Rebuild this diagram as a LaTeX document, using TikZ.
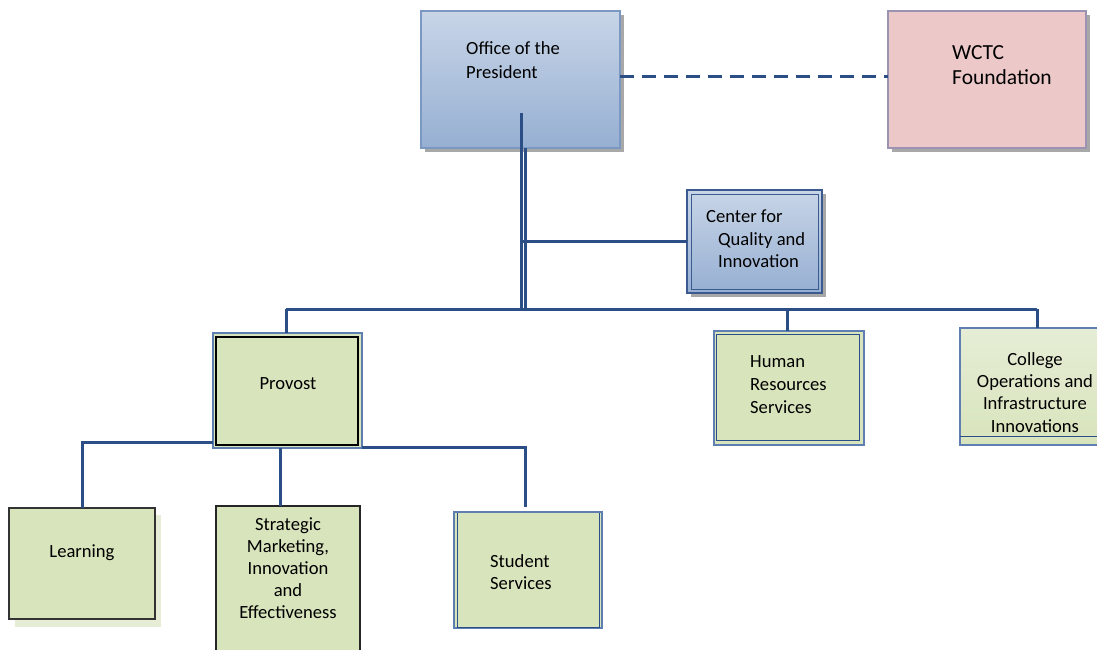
\documentclass[tikz,border=0pt]{standalone}
\usepackage{fontspec}
\setmainfont{Carlito}
\definecolor{conn}{HTML}{2B4E87}
\definecolor{green}{HTML}{D8E4BC}
\definecolor{greenlt}{HTML}{E6EDD6}
\definecolor{blueborder}{HTML}{7B98C2}
\definecolor{bluetop}{HTML}{C8D5E7}
\definecolor{bluebot}{HTML}{96AFD2}
\definecolor{pink}{HTML}{ECC8C8}
\definecolor{pinkborder}{HTML}{9C92B2}
\definecolor{shadowgray}{HTML}{A8A8A8}
\definecolor{darkblue}{HTML}{3A5A90}
\definecolor{edgeblue}{HTML}{5F7FB2}
\tikzset{
  wire/.style={draw=conn, line width=3pt},
  boxbase/.style={rectangle, anchor=north west, inner sep=0pt, outer sep=0pt},
  txt/.style={anchor=north west, inner sep=0pt, font=\fontsize{18.6}{22.7}\selectfont, align=left},
  ctxt/.style={anchor=north, inner sep=0pt, font=\fontsize{18.6}{22.3}\selectfont, align=center},
}
\begin{document}
\begin{tikzpicture}[x=1pt,y=-1pt]
\useasboundingbox (0,0) rectangle (1097,650);
% shadows
\fill[shadowgray] (425,15) rectangle (624,152);
\fill[shadowgray] (892,15) rectangle (1090,152);
\fill[shadowgray] (691,194) rectangle (826,297);
\fill[greenlt] (15,515) rectangle (161,627);
% Office of the President
\node[boxbase, top color=bluetop, bottom color=bluebot, draw=blueborder, line width=1.5pt,
      minimum width=199pt, minimum height=137pt] (pres) at (421,11) {};
\node[txt, font=\fontsize{18.6}{24}\selectfont] (tpres) at (466,41) {Office of the\\President};
% WCTC Foundation
\node[boxbase, fill=pink, draw=pinkborder, line width=1.5pt,
      minimum width=198pt, minimum height=137pt] (found) at (888,11) {};
\node[txt, font=\fontsize{21.5}{25}\selectfont] (tfound) at (952,45) {WCTC\\Foundation};
% Center for Quality and Innovation
\node[boxbase, top color=bluetop, bottom color=bluebot, draw=darkblue, line width=1.5pt,
      minimum width=135pt, minimum height=103pt] (cqi) at (687,190) {};
\draw[darkblue, line width=0.9pt] ([shift={(4pt,-4pt)}]cqi.north west) rectangle ([shift={(-4pt,4pt)}]cqi.south east);
\node[txt, font=\fontsize{18.6}{22.5}\selectfont] (tcqi) at (706,210) {Center for\\\hspace{12pt}Quality and\\\hspace{12pt}Innovation};
% Provost
\node[boxbase, fill=green, draw=edgeblue, line width=1.2pt,
      minimum width=149pt, minimum height=115pt] (prov) at (213,333) {};
\draw[black, line width=1.3pt] (216,337) rectangle (358,445);
\node[ctxt] (tprov) at (288,377) {Provost};
% Human Resources Services
\node[boxbase, fill=green, draw=edgeblue, line width=1.2pt,
      minimum width=150pt, minimum height=114pt] (hr) at (714,331) {};
\draw[conn, line width=1pt] (716,334) rectangle (859,440);
\node[txt, font=\fontsize{18.6}{23}\selectfont] (thr) at (750,355) {Human\\Resources\\Services};
% College Operations
\node[boxbase, top color=greenlt, bottom color=green, draw=edgeblue, line width=1.2pt,
      minimum width=140pt, minimum height=117pt] (coll) at (960,328) {};
\draw[conn, line width=1pt] (960,436) -- (1097,436);
\node[ctxt] (tcoll) at (1035,352) {College\\Operations and\\Infrastructure\\Innovations};
% Learning
\node[boxbase, fill=green, draw=black!80, line width=1.2pt,
      minimum width=146pt, minimum height=111pt] (learn) at (9,508) {};
\node[ctxt] (tlearn) at (82,544) {Learning};
% Strategic
\node[boxbase, fill=green, draw=black!85, line width=2pt,
      minimum width=144pt, minimum height=160pt] (strat) at (216,506) {};
\node[ctxt, font=\fontsize{18.6}{22.2}\selectfont] (tstrat) at (288,517) {Strategic\\Marketing,\\Innovation\\and\\Effectiveness};
% Student Services
\node[boxbase, fill=green, draw=edgeblue, line width=1.2pt,
      minimum width=148pt, minimum height=116pt] (stud) at (454,512) {};
\draw[conn, line width=1pt] (457,513) -- (457,627) -- (599,627) -- (599,513);
\node[txt, font=\fontsize{18.6}{22}\selectfont] (tstud) at (490,554) {Student\\Services};
% connectors
\coordinate (busL) at (286,309);
\coordinate (busR) at (1037,309);
\coordinate (pdrop) at (521,113);
\draw[wire, dashed, dash pattern=on 14pt off 8pt] (pres.east |- 0,77) -- (found.west |- 0,77);
\draw[wire] (pdrop) -- (pdrop |- busL);
\draw[wire] (pres.south -| 525,0) -- (525,309);
\draw[wire] (521,241) -- (cqi.west |- 0,241);
\draw[wire] (busL) -- (busR);
\draw[wire] (busL) -- (prov.north -| busL);
\draw[wire] (787,309) -- (hr.north -| 787,0);
\draw[wire] (busR) -- (coll.north -| busR);
\draw[wire] (prov.west |- 0,442) -- (82,442) -- (learn.north -| 82,0);
\draw[wire] (prov.south -| 280,0) -- (strat.north -| 280,0);
\draw[wire] (prov.east |- 0,447) -- (525,447) -- (525,507);
\end{tikzpicture}
\end{document}
